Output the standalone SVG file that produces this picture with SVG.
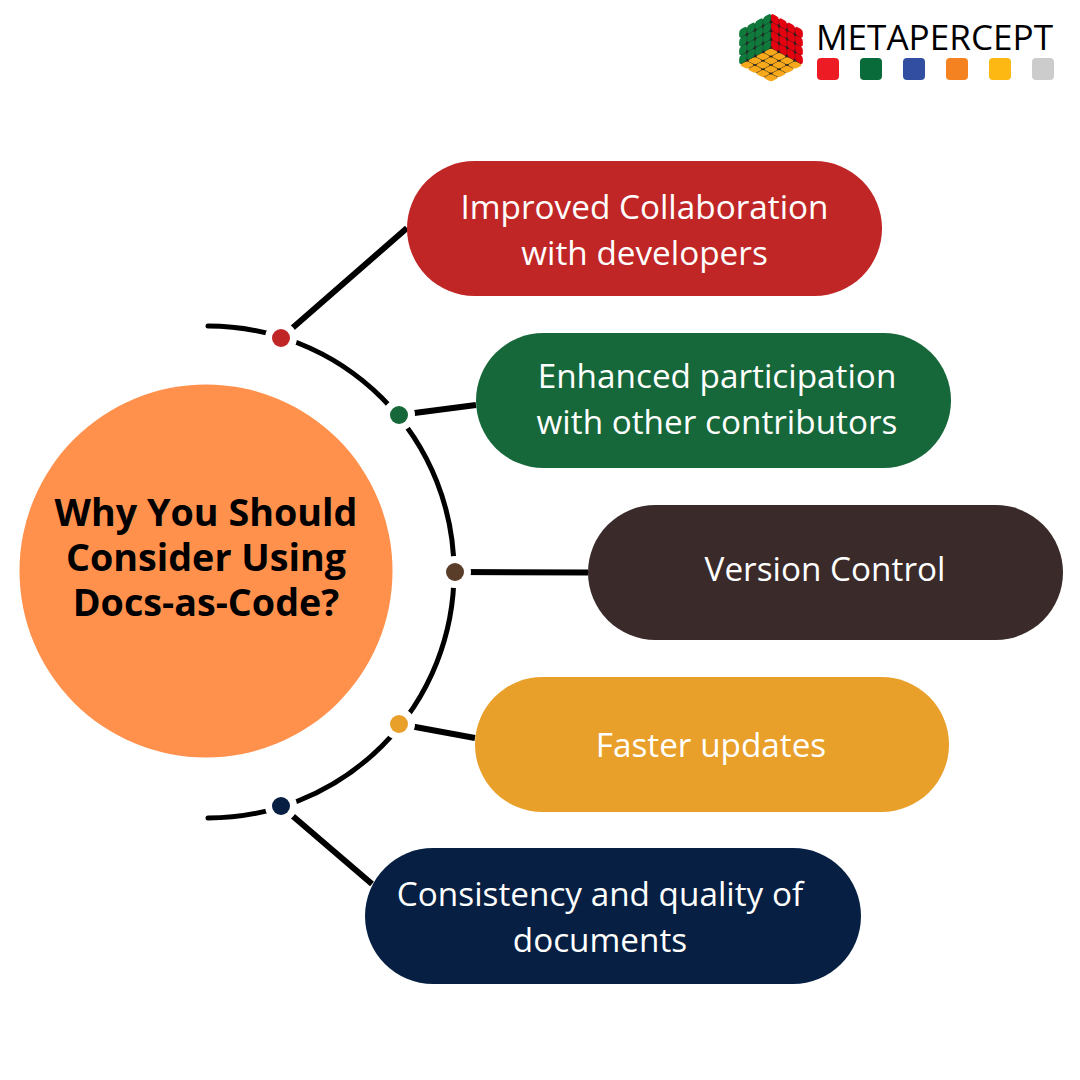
<svg xmlns="http://www.w3.org/2000/svg" width="1080" height="1080" viewBox="0 0 1080 1080">
<style>
text{font-family:"Open Sans","Noto Sans",sans-serif;text-anchor:middle}
.l{font-size:33.3px;fill:#fff}
.t{font-size:37.7px;font-weight:700;fill:#000}
.a{fill:none;stroke:#000;stroke-width:5;stroke-linecap:round}
.c{fill:none;stroke:#000;stroke-width:6}
.d{stroke:#fff;stroke-width:14;paint-order:stroke}
.m{font-size:35.5px;fill:#000;text-anchor:start}
</style>
<defs>
<g id="grid">
<rect x="0.02" y="0.02" width="0.96" height="0.96" rx="0.3"/><rect x="1.02" y="0.02" width="0.96" height="0.96" rx="0.3"/><rect x="2.02" y="0.02" width="0.96" height="0.96" rx="0.3"/><rect x="3.02" y="0.02" width="0.96" height="0.96" rx="0.3"/>
<rect x="0.02" y="1.02" width="0.96" height="0.96" rx="0.3"/><rect x="1.02" y="1.02" width="0.96" height="0.96" rx="0.3"/><rect x="2.02" y="1.02" width="0.96" height="0.96" rx="0.3"/><rect x="3.02" y="1.02" width="0.96" height="0.96" rx="0.3"/>
<rect x="0.02" y="2.02" width="0.96" height="0.96" rx="0.3"/><rect x="1.02" y="2.02" width="0.96" height="0.96" rx="0.3"/><rect x="2.02" y="2.02" width="0.96" height="0.96" rx="0.3"/><rect x="3.02" y="2.02" width="0.96" height="0.96" rx="0.3"/>
<rect x="0.02" y="3.02" width="0.96" height="0.96" rx="0.3"/><rect x="1.02" y="3.02" width="0.96" height="0.96" rx="0.3"/><rect x="2.02" y="3.02" width="0.96" height="0.96" rx="0.3"/><rect x="3.02" y="3.02" width="0.96" height="0.96" rx="0.3"/>
</g>
</defs>
<rect width="1080" height="1080" fill="#fff"/>
<g id="logo">
<polygon points="771,15 801,31 801,64 771,81 741,64 741,31" fill="#222"/>
<use href="#grid" fill="#0f7a3c" transform="matrix(-8 4.25 0 -8.75 771 48)"/>
<use href="#grid" fill="#e3000f" transform="matrix(8 4.25 0 -8.75 771 48)"/>
<use href="#grid" fill="#f7a81b" transform="matrix(-8 4.25 8 4.25 771 48)"/>
<text class="m" x="816" y="50" textLength="237" lengthAdjust="spacingAndGlyphs">METAPERCEPT</text>
<rect x="817" y="58" width="22" height="22" rx="4" fill="#ed1c24"/>
<rect x="860" y="58" width="22" height="22" rx="4" fill="#0a6b3a"/>
<rect x="903" y="58" width="22" height="22" rx="4" fill="#314ea0"/>
<rect x="946" y="58" width="22" height="22" rx="4" fill="#f58220"/>
<rect x="989" y="58" width="22" height="22" rx="4" fill="#fdb813"/>
<rect x="1032" y="58" width="22" height="22" rx="4" fill="#cccccc"/>
</g>
<g id="connectors">
<path class="a" d="M208 326A246 246 0 0 1 208 818"/>
<path class="c" d="M281 338L407 228M399 415L476 405M455 572L588 572.500M399 724L475 738M281 806L372 884"/>
</g>
<g id="center"><circle cx="206" cy="571" r="186.500" fill="#ff914d"/>
<text class="t" x="206" y="526">Why You Should</text>
<text class="t" x="206" y="571">Consider Using</text>
<text class="t" x="206" y="616">Docs-as-Code?</text></g>
<g id="dot1"><circle class="d" cx="281" cy="338" r="9" fill="#c12626"/></g>
<g id="dot2"><circle class="d" cx="399" cy="415" r="9" fill="#16673a"/></g>
<g id="dot3"><circle class="d" cx="455" cy="572" r="9" fill="#5a3d28"/></g>
<g id="dot4"><circle class="d" cx="399" cy="724" r="9" fill="#e9a02a"/></g>
<g id="dot5"><circle class="d" cx="281" cy="806" r="9" fill="#061f42"/></g>
<g id="n1"><rect x="407" y="161" width="475" height="135" rx="67.500" fill="#c12626"/>
<text class="l" x="644.500" y="219">Improved Collaboration</text><text class="l" x="644.500" y="265">with developers</text></g>
<g id="n2"><rect x="476" y="333" width="475" height="135" rx="67.500" fill="#16673a"/>
<text class="l" x="717" y="388">Enhanced participation</text><text class="l" x="717" y="434">with other contributors</text></g>
<g id="n3"><rect x="588" y="505" width="475" height="135" rx="67.500" fill="#3a2a2a"/>
<text class="l" x="825" y="581">Version Control</text></g>
<g id="n4"><rect x="475" y="677" width="474" height="135" rx="67.500" fill="#e9a02a"/>
<text class="l" x="711" y="757">Faster updates</text></g>
<g id="n5"><rect x="365" y="848" width="496" height="136" rx="68" fill="#061f42"/>
<text class="l" x="600" y="906">Consistency and quality of</text><text class="l" x="600" y="952">documents</text></g>
</svg>
